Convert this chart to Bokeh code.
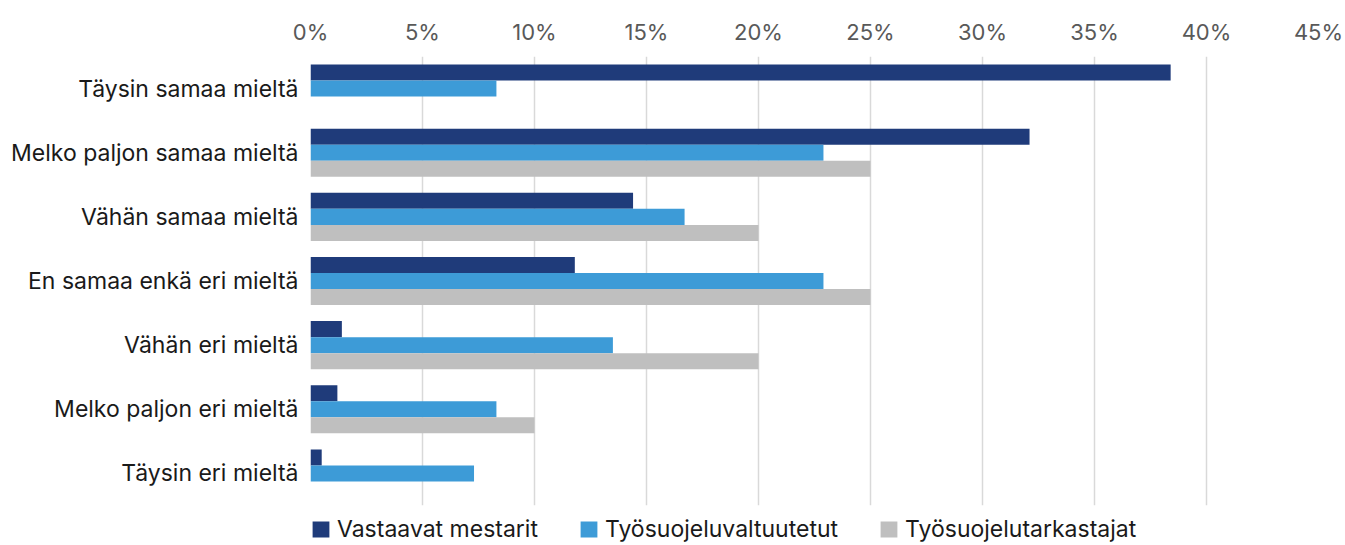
from bokeh.plotting import figure
from bokeh.models import FactorRange, Range1d, Legend, LegendItem, FixedTicker, PrintfTickFormatter, ColumnDataSource
from bokeh.transform import dodge
from bokeh.embed import file_html
from bokeh.resources import INLINE

categories = ["Täysin samaa mieltä", "Melko paljon samaa mieltä", "Vähän samaa mieltä",
              "En samaa enkä eri mieltä", "Vähän eri mieltä", "Melko paljon eri mieltä",
              "Täysin eri mieltä"]
series = ["Vastaavat mestarit", "Työsuojeluvaltuutetut", "Työsuojelutarkastajat"]
mestarit = [38.4, 32.1, 14.4, 11.8, 1.4, 1.2, 0.5]
valtuutetut = [8.3, 22.9, 16.7, 22.9, 13.5, 8.3, 7.3]
tarkastajat = [0.0, 25.0, 20.0, 25.0, 20.0, 10.0, 0.0]
x_ticks = [0, 5, 10, 15, 20, 25, 30, 35, 40, 45]

colors = ["#1f3b7a", "#3d9bd7", "#bfbfbf"]
FONT = "Inter"

source = ColumnDataSource(data=dict(cat=categories, s0=mestarit, s1=valtuutetut, s2=tarkastajat))

p = figure(frame_width=1008, frame_height=449, output_backend="svg", toolbar_location=None,
           y_range=FactorRange(factors=list(reversed(categories))),
           x_range=Range1d(0, 45), x_axis_location="above",
           min_border_left=310, min_border_right=27, min_border_top=56, min_border_bottom=38)

renderers = []
for i, (key, off) in enumerate([("s0", 0.25), ("s1", 0.0), ("s2", -0.25)]):
    r = p.hbar(y=dodge("cat", off, range=p.y_range), left=0, right=key, height=0.25,
               source=source, fill_color=colors[i], line_color=None)
    renderers.append(r)

p.outline_line_color = None
p.ygrid.grid_line_color = None
p.xgrid.grid_line_color = "#d9d9d9"
p.xgrid.grid_line_width = 1.5

xa = p.xaxis[0]
xa.ticker = FixedTicker(ticks=x_ticks)
xa.formatter = PrintfTickFormatter(format="%d%%")
xa.axis_line_color = None
xa.major_tick_line_color = None
xa.minor_tick_line_color = None
xa.major_tick_out = 0
xa.major_label_text_font = FONT
xa.major_label_text_font_size = "22px"
xa.major_label_text_color = "#595959"
xa.major_label_standoff = 12

ya = p.yaxis[0]
ya.axis_line_color = None
ya.major_tick_line_color = None
ya.minor_tick_line_color = None
ya.major_tick_out = 0
ya.major_label_text_font = FONT
ya.major_label_text_font_size = "23px"
ya.major_label_text_color = "#1a1a1a"
ya.major_label_standoff = 12

legend = Legend(items=[LegendItem(label=s, renderers=[r]) for s, r in zip(series, renderers)],
                orientation="horizontal", location="top_left",
                glyph_width=21, glyph_height=20, label_standoff=6, spacing=40,
                padding=0, margin=0, border_line_color=None, background_fill_alpha=0,
                title=" ", title_text_font_size="9px", title_standoff=0,
                label_text_font=FONT, label_text_font_size="23px", label_text_color="#1a1a1a")
p.add_layout(legend, "below")

open("out.html", "w").write(file_html(p, INLINE))
